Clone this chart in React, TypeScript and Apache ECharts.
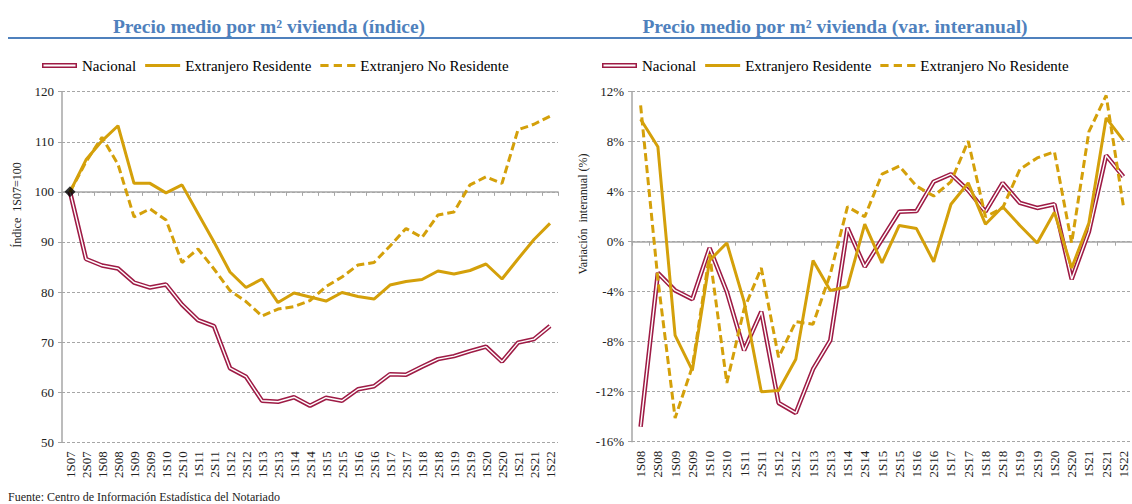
import React, { useEffect, useRef } from "react";
import * as echarts from "echarts";

const catsLeft = ["1S07","2S07","1S08","2S08","1S09","2S09","1S10","2S10","1S11","2S11","1S12","2S12","1S13","2S13","1S14","2S14","1S15","2S15","1S16","2S16","1S17","2S17","1S18","2S18","1S19","2S19","1S20","2S20","1S21","2S21","1S22"];
const catsRight = ["1S08","2S08","1S09","2S09","1S10","2S10","1S11","2S11","1S12","2S12","1S13","2S13","1S14","2S14","1S15","2S15","1S16","2S16","1S17","2S17","1S18","2S18","1S19","2S19","1S20","2S20","1S21","2S21","1S22"];

const nacionalIdx = [100, 86.6, 85.3, 84.7, 81.9, 80.9, 81.5, 77.5, 74.4, 73.2, 64.8, 63.1, 58.3, 58.1, 59.0, 57.3, 58.9, 58.3, 60.6, 61.2, 63.6, 63.5, 65.1, 66.6, 67.2, 68.2, 69.1, 66.1, 69.9, 70.6, 73.2];
const residenteIdx = [100, 106.4, 110.2, 113.2, 101.7, 101.7, 99.8, 101.4, 95.7, 90.0, 84.0, 80.9, 82.6, 77.9, 79.8, 79.0, 78.2, 79.9, 79.1, 78.6, 81.4, 82.1, 82.5, 84.2, 83.6, 84.3, 85.6, 82.6, 86.6, 90.5, 93.7];
const noResidenteIdx = [100, 106.0, 110.9, 105.5, 95.0, 96.6, 94.4, 85.9, 88.6, 84.6, 80.3, 78.1, 75.2, 76.6, 77.1, 78.3, 81.1, 83.0, 85.4, 85.9, 89.2, 92.7, 90.9, 95.4, 96.0, 101.4, 103.0, 101.7, 112.4, 113.5, 115.1];

const nacionalVar = [-14.8, -2.5, -3.9, -4.6, -0.5, -4.0, -8.7, -5.6, -12.9, -13.7, -10.2, -7.9, 1.1, -2.0, 0.2, 2.4, 2.45, 4.8, 5.4, 4.1, 2.4, 4.7, 3.1, 2.7, 3.0, -3.0, 0.8, 6.9, 5.2];
const residenteVar = [9.8, 7.6, -7.5, -10.3, -1.5, -0.1, -4.8, -12.0, -11.9, -9.4, -1.5, -3.9, -3.6, 1.4, -1.7, 1.3, 1.05, -1.6, 3.0, 4.7, 1.4, 2.8, 1.3, -0.1, 2.35, -2.1, 1.5, 9.9, 8.1];
const noResidenteVar = [10.9, -3.0, -14.1, -10.0, -1.0, -11.3, -5.4, -2.1, -9.25, -6.4, -6.6, -2.6, 2.8, 2.0, 5.4, 6.05, 4.45, 3.65, 4.8, 8.05, 2.0, 2.7, 5.8, 6.7, 7.2, -0.1, 8.8, 11.7, 2.85];

const NAMES = ["Nacional", "Extranjero Residente", "Extranjero No Residente"];
const MAROON = "#9E1B45";
const GOLD = "#D4A00A";
const BLUE = "#4F81BD";
const FONT = "Liberation Serif";
const GRIDC = "#A6A6A6";

export default function App() {
  const ref = useRef<HTMLDivElement>(null);
  useEffect(() => {
    if (!ref.current) return;
    const chart = echarts.init(ref.current, null, { renderer: "svg" });

    const leftGrid = { left: 62, top: 91.7, width: 496, height: 350.6 };
    const rightGrid = { left: 632, top: 91.7, width: 502, height: 350 };

    const legendData = [
      { name: NAMES[0], icon: "path://M0,0H35V5H0Z M1.5,1.6V3.4H33.5V1.6Z", itemStyle: { color: MAROON, borderWidth: 0 } },
      { name: NAMES[1], icon: "path://M0,0H35V3H0Z", itemStyle: { color: GOLD, borderWidth: 0 } },
      { name: NAMES[2], icon: "path://M0,0H8V3H0Z M13,0H21V3H13Z M26,0H34V3H26Z", itemStyle: { color: GOLD, borderWidth: 0 } },
    ];
    const legendBase = {
      data: legendData,
      top: 53,
      itemWidth: 35,
      itemHeight: 6,
      itemGap: 9,
      selectedMode: false,
      textStyle: { fontFamily: FONT, fontSize: 15, color: "#000" },
    };

    const catAxisLabels = (gridIndex: number, data: string[]) => ({
      type: "category",
      gridIndex,
      data,
      boundaryGap: true,
      position: "bottom",
      axisLine: { show: false, onZero: false },
      axisTick: { show: false },
      axisLabel: { interval: 0, rotate: 90, fontFamily: FONT, fontSize: 13, color: "#222", margin: 9 },
      splitLine: { show: false },
    });
    const catAxisLine = (gridIndex: number, data: string[], zeroAxis: number) => ({
      type: "category",
      gridIndex,
      data,
      boundaryGap: true,
      position: "top",
      axisLine: { show: true, onZero: true, onZeroAxisIndex: zeroAxis, lineStyle: { color: GRIDC, width: 1.5 } },
      axisTick: { show: true, interval: 0, inside: true, length: 4, lineStyle: { color: GRIDC, width: 1 } },
      axisLabel: { show: false },
      splitLine: { show: false },
    });
    const valAxis = (gridIndex: number, min: number, max: number, interval: number, fmt: string) => ({
      type: "value",
      gridIndex,
      min,
      max,
      interval,
      axisLine: { show: true, lineStyle: { color: GRIDC, width: 1.5 } },
      axisTick: { show: true, length: 4, lineStyle: { color: GRIDC } },
      axisLabel: { fontFamily: FONT, fontSize: 13, color: "#222", margin: 8, formatter: fmt },
      splitLine: { show: true, lineStyle: { color: GRIDC, type: [3, 2], width: 1 } },
    });

    const makeSeries = (xi: number, yi: number, nac: number[], res: number[], nores: number[]) => [
      {
        name: NAMES[0], type: "line", xAxisIndex: xi, yAxisIndex: yi, data: nac, symbol: "none",
        lineStyle: { color: MAROON, width: 4.5 }, itemStyle: { color: MAROON }, z: 3,
      },
      {
        name: "_core" + xi, type: "line", xAxisIndex: xi, yAxisIndex: yi, data: nac, symbol: "none",
        lineStyle: { color: "#fff", width: 1.4 }, itemStyle: { color: "#fff" }, z: 4, silent: true,
      },
      {
        name: NAMES[1], type: "line", xAxisIndex: xi, yAxisIndex: yi, data: res, symbol: "none",
        lineStyle: { color: GOLD, width: 3 }, itemStyle: { color: GOLD }, z: 5,
      },
      {
        name: NAMES[2], type: "line", xAxisIndex: xi, yAxisIndex: yi, data: nores, symbol: "none",
        lineStyle: { color: GOLD, width: 3, type: [8, 4] }, itemStyle: { color: GOLD }, z: 5,
      },
    ];

    const option: any = {
      animation: false,
      backgroundColor: "#fff",
      title: [
        { text: "Precio medio por m² vivienda (índice)", left: 264, top: 11, textAlign: "center",
          textStyle: { fontFamily: FONT, fontSize: 19.5, fontWeight: "bold", color: BLUE } },
        { text: "Precio medio por m² vivienda (var. interanual)", left: 830, top: 11, textAlign: "center",
          textStyle: { fontFamily: FONT, fontSize: 19.5, fontWeight: "bold", color: BLUE } },
      ],
      legend: [
        { ...legendBase, left: 37 },
        { ...legendBase, left: 597 },
      ],
      grid: [leftGrid, rightGrid],
      xAxis: [
        catAxisLabels(0, catsLeft),
        catAxisLine(0, catsLeft, 2),
        catAxisLabels(1, catsRight),
        catAxisLine(1, catsRight, 1),
      ],
      yAxis: [
        valAxis(0, 50, 120, 10, "{value}"),
        valAxis(1, -16, 12, 4, "{value}%"),
        // hidden helper axis: its 0 sits where the index axis reads 100
        { type: "value", gridIndex: 0, min: -50, max: 20, interval: 10, show: false },
      ],
      series: [
        ...makeSeries(0, 0, nacionalIdx, residenteIdx, noResidenteIdx),
        {
          name: "_base", type: "scatter", xAxisIndex: 0, yAxisIndex: 0,
          data: [[catsLeft[0], nacionalIdx[0]]], symbol: "diamond", symbolSize: 11,
          itemStyle: { color: "#000" }, z: 10, silent: true,
        },
        ...makeSeries(2, 1, nacionalVar, residenteVar, noResidenteVar),
      ],
      graphic: [
        { type: "line", shape: { x1: 8, y1: 38, x2: 1132, y2: 38 }, style: { stroke: BLUE, lineWidth: 2 } },
        { type: "text", x: 17, y: 205, rotation: Math.PI / 2,
          style: { text: "Índice  1S07=100", fontFamily: FONT, fontSize: 12, fill: "#222", align: "center", verticalAlign: "middle" } },
        { type: "text", x: 583, y: 214, rotation: Math.PI / 2,
          style: { text: "Variación  interanual (%)", fontFamily: FONT, fontSize: 12, fill: "#222", align: "center", verticalAlign: "middle" } },
        { type: "text", x: 8, y: 497,
          style: { text: "Fuente: Centro de Información Estadística del Notariado", fontFamily: FONT, fontSize: 12, fill: "#222", align: "left", verticalAlign: "middle" } },
      ],
    };
    chart.setOption(option);
    return () => chart.dispose();
  }, []);
  return <div ref={ref} style={{ position: "fixed", left: 0, top: 0, width: 1132, height: 504 }} />;
}
